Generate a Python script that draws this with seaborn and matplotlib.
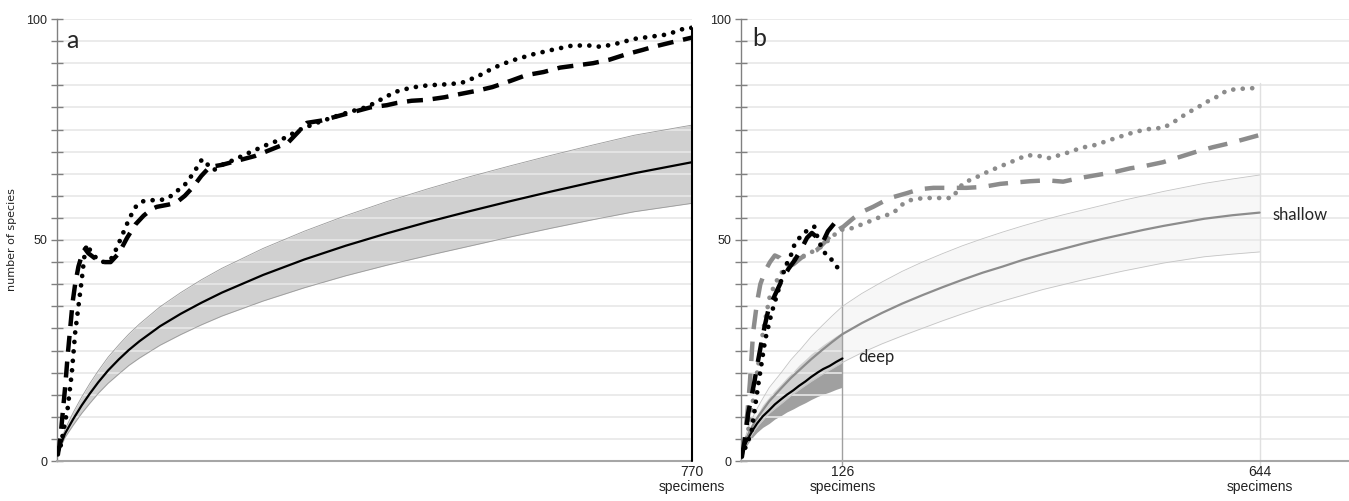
import numpy as np
import pandas as pd
import matplotlib.pyplot as plt
import seaborn as sns

# ---- panel a: all samples ----
a_obs1_x = [1, 4, 8, 13, 18, 22, 26, 30, 33, 36, 44, 55, 65, 72, 80, 88, 97, 105, 113, 125, 135, 145, 155, 165,
            176, 183, 190, 200, 213, 230, 254, 275, 295, 315, 335, 355, 376, 395, 410, 430, 450, 470, 490, 510,
            530, 550, 577, 600, 625, 645, 660, 680, 700, 720, 740, 763, 770]
a_obs1_y = [1.5, 3, 7, 12, 20, 29, 35, 41, 46, 49, 46.5, 45, 45.5, 48, 51.5, 55, 58, 58.8, 59, 59, 59.5, 61, 62.5,
            65, 68.3, 67, 65.8, 67, 68, 69.5, 71.5, 73, 75, 76.5, 77.8, 79, 80.1, 82, 83.5, 84.5, 85, 85.2, 85.5,
            87, 89, 90.5, 92, 93, 94, 94, 93.7, 94.5, 95.5, 96, 96.5, 98, 98]
a_obs2_x = [1, 3, 5, 7, 10, 13, 16, 19, 22, 26, 30, 34, 38, 45, 55, 65, 75, 85, 95, 105, 115, 121, 135, 145, 155,
            165, 175, 185, 200, 220, 240, 260, 280, 303, 320, 340, 360, 380, 400, 412, 430, 448, 470, 488, 510,
            528, 550, 569, 590, 610, 630, 650, 670, 690, 710, 723, 745, 770]
a_obs2_y = [1.5, 3.5, 7, 11, 17, 24, 30, 36, 40, 44, 46.5, 48, 47, 46, 45, 45, 47, 50.5, 53.5, 55.5, 57, 57.5, 58,
            58.5, 60, 62, 64.5, 66.5, 67, 68, 69, 70.5, 72, 76.5, 77, 78, 79, 80, 80.5, 81, 81.5, 81.7, 82.3, 83,
            83.8, 84.6, 86, 87.3, 88, 89, 89.5, 90, 90.8, 92, 93, 93.7, 94.7, 95.8]
a_rar_x = [1, 5, 10, 20, 30, 40, 50, 62, 75, 87, 100, 125, 150, 175, 200, 250, 300, 350, 400, 450, 500, 550, 600,
           650, 700, 770]
a_rar_mean = [1.5, 4, 6.3, 9.6, 12.6, 15.3, 17.8, 20.5, 23.0, 25.1, 27.1, 30.5, 33.3, 35.8, 38.1, 42.1, 45.6, 48.7,
              51.5, 54.1, 56.5, 58.8, 61.0, 63.1, 65.1, 67.6]
a_rar_hi = [1.8, 4.7, 7.3, 11.1, 14.5, 17.6, 20.4, 23.5, 26.3, 28.7, 31.0, 34.9, 38.1, 41.0, 43.6, 48.1, 52.0,
            55.5, 58.7, 61.6, 64.3, 66.8, 69.2, 71.5, 73.7, 76.0]
a_rar_lo = [1.2, 3.4, 5.4, 8.2, 10.8, 13.1, 15.3, 17.6, 19.7, 21.6, 23.3, 26.2, 28.6, 30.8, 32.8, 36.2, 39.2, 41.9,
            44.3, 46.5, 48.6, 50.7, 52.7, 54.6, 56.4, 58.3]

# ---- panel b: deep vs shallow ----
deep_obs1_x = [1, 7.5, 13, 21, 30, 38, 47, 55, 61, 67, 75, 83, 91, 96, 100, 107, 113, 122]
deep_obs1_y = [1, 4, 6.5, 16.7, 27.4, 33.5, 39, 44, 46, 49.3, 51, 52.3, 53, 50, 48.4, 46.2, 45.5, 43.2]
deep_obs2_x = [1, 5, 9, 13, 17, 21, 26, 30, 34, 42, 51, 59, 67, 75, 82, 88, 95, 101, 108, 117, 122, 126]
deep_obs2_y = [1, 5, 10.9, 14.5, 18.3, 22.5, 27.4, 31, 34.2, 37.5, 41, 43.5, 45.5, 48, 50.5, 51.6, 50.5, 49.3, 52,
               54, 54.3, 54.5]
deep_rar_x = [1, 5, 10, 15, 20, 27, 35, 42, 50, 57, 65, 72, 80, 87, 95, 102, 110, 118, 126]
deep_rar_mean = [1.5, 3.6, 5.5, 7.1, 8.5, 10.1, 11.5, 12.8, 14, 15, 16, 17, 18, 19, 20, 20.8, 21.5, 22.4, 23.2]
deep_rar_hi = [1.8, 4.4, 6.8, 8.8, 10.5, 12.7, 14.5, 16, 17.5, 18.9, 20.3, 21.7, 23, 24.2, 25.3, 26.3, 27.3, 28.3,
               29.2]
deep_rar_lo = [1.2, 2.9, 4.3, 5.5, 6.5, 7.6, 8.5, 9.5, 10.3, 11.1, 11.8, 12.5, 13.2, 13.9, 14.6, 15.1, 15.6, 16.2,
               16.7]

shal_obs1_x = [1, 6, 12, 20, 28, 36, 45, 58, 70, 80, 88, 100, 113, 123, 135, 154, 170, 189, 200, 210, 226, 245,
               262, 276, 290, 306, 320, 340, 355, 370, 384, 400, 409, 421, 440, 456, 471, 490, 512, 524, 540, 554,
               567, 579, 592, 604, 620, 641]
shal_obs1_y = [1, 4, 10, 20, 30, 37.5, 41, 44.8, 46, 46.5, 47.3, 48.5, 50.7, 52.3, 52.5, 53.8, 55, 56.1, 58, 59,
               59.5, 59.5, 59.5, 62.9, 64, 65.4, 66.5, 68, 69.2, 69, 68.5, 69.5, 69.9, 70.8, 71.5, 72.5, 73.4, 74.5,
               75.3, 75.3, 77, 78.7, 80, 81.3, 82.5, 83.9, 84.2, 84.4]
shal_obs2_x = [1, 5, 8, 11, 15, 20, 24, 30, 36, 42, 48, 57, 65, 75, 85, 94, 104, 114, 127, 140, 152, 164, 185,
               206, 222, 239, 260, 280, 300, 322, 340, 359, 380, 400, 420, 442, 462, 483, 503, 524, 545, 566, 586,
               607, 625, 645]
shal_obs2_y = [1, 6, 11, 17.6, 29, 36, 40, 43, 45, 46.5, 46, 44, 44.5, 46, 47, 47.7, 49.5, 51.6, 53, 55, 56.5,
               57.5, 59.5, 60.6, 61.5, 61.8, 61.8, 61.8, 62, 62.7, 63, 63.3, 63.5, 63.2, 64, 64.7, 65.3, 66.2, 66.8,
               67.6, 68.8, 70, 71, 71.9, 72.8, 73.8]
shal_rar_x = [1, 5, 10, 18, 25, 35, 50, 62, 75, 87, 100, 113, 126, 150, 175, 200, 225, 250, 275, 300, 325, 350,
              375, 400, 425, 450, 475, 500, 525, 550, 575, 610, 644]
shal_rar_mean = [1.5, 4.2, 6.5, 9.2, 11, 13.5, 16.5, 18.8, 21, 23, 25, 26.9, 28.7, 31.2, 33.5, 35.6, 37.5, 39.3,
                 41, 42.6, 44, 45.5, 46.8, 48, 49.2, 50.3, 51.3, 52.3, 53.2, 54, 54.8, 55.6, 56.2]
shal_rar_hi = [1.8, 5.2, 8, 11.2, 13.5, 16.6, 20, 22.9, 25.5, 28.1, 30.5, 32.8, 35, 37.9, 40.5, 42.9, 45, 46.9,
               48.7, 50.3, 51.8, 53.2, 54.5, 55.7, 56.8, 57.9, 59, 60, 61, 61.9, 62.8, 63.8, 64.7]
shal_rar_lo = [1.2, 3.3, 5, 7.3, 8.8, 10.8, 13, 14.8, 16.5, 18, 19.5, 20.9, 22.3, 24.5, 26.5, 28.3, 30, 31.7,
               33.3, 34.8, 36.2, 37.5, 38.8, 39.9, 41, 42, 43, 43.9, 44.8, 45.5, 46.2, 46.8, 47.3]

sns.set_theme(style="white")
plt.rcParams['font.family'] = ['Liberation Sans', 'DejaVu Sans']

DOT = dict(ls=(0, (0.01, 2.0)), dash_capstyle='round', lw=3.4)
DASH_A = dict(ls=(0, (3.6, 2.2)), dash_capstyle='butt', lw=3.2)
DASH_B = dict(ls=(0, (4.4, 2.8)), dash_capstyle='butt', lw=3.2)


def line(ax, x, y, color, **kw):
    sns.lineplot(x=x, y=y, ax=ax, color=color, errorbar=None, zorder=3, **kw)


def style_axes(ax, xmax):
    ax.set_xlim(0, xmax)
    ax.set_ylim(0, 100)
    ax.set_axisbelow('line')
    ax.set_yticks(np.arange(0, 101, 5))
    ax.set_yticklabels(['0' if v == 0 else '50' if v == 50 else '100' if v == 100 else ''
                        for v in range(0, 101, 5)], fontsize=9, color='#222222')
    ax.yaxis.grid(True, color='#e8e8e8', lw=1.2)
    ax.tick_params(axis='y', direction='inout', length=8, width=1, color='#808080', left=True, pad=3)
    ax.tick_params(axis='x', length=0, pad=3, labelsize=10, labelcolor='#222222')
    for s in ['top', 'right']:
        ax.spines[s].set_visible(False)
    ax.spines['left'].set_color('#808080')
    ax.spines['left'].set_linewidth(1)
    ax.spines['bottom'].set_color('#a6a6a6')
    ax.spines['bottom'].set_linewidth(1.5)
    for t in ax.get_xticklabels():
        t.set_linespacing(1.05)


fig = plt.figure(figsize=(13.49, 5.01), dpi=100)
ax1 = fig.add_axes([57 / 1349, 40 / 501, 635 / 1349, 442 / 501])
ax2 = fig.add_axes([741 / 1349, 40 / 501, 608 / 1349, 442 / 501])

# panel a
ax1.fill_between(a_rar_x, a_rar_lo, a_rar_hi, color='#d0d0d0', lw=0, zorder=1)
line(ax1, a_rar_x, a_rar_hi, '#9a9a9a', lw=0.6)
line(ax1, a_rar_x, a_rar_lo, '#9a9a9a', lw=0.6)
line(ax1, a_rar_x, a_rar_mean, 'black', lw=1.6)
line(ax1, a_obs2_x, a_obs2_y, 'black', **DASH_A)
line(ax1, a_obs1_x, a_obs1_y, 'black', **DOT)
ax1.plot([770, 770], [0, 98], color='black', lw=1.5, zorder=4, clip_on=False)
style_axes(ax1, 770)
ax1.set_xticks([770])
ax1.set_xticklabels(['770\nspecimens'])
ax1.set_ylabel('number of species', fontsize=8, labelpad=7, color='#222222', family='DejaVu Sans')
ax1.text(0.015, 0.952, 'a', transform=ax1.transAxes, fontsize=18, family='Lato', va='center', ha='left')

# panel b
ax2.fill_between(deep_rar_x, deep_rar_lo, deep_rar_hi, color='#a0a0a0', lw=0, zorder=1)
ax2.fill_between(shal_rar_x, shal_rar_lo, shal_rar_hi, color='#f2f2f2', alpha=0.6, lw=0, zorder=1.1)
line(ax2, shal_rar_x, shal_rar_hi, '#c4c4c4', lw=0.6)
line(ax2, shal_rar_x, shal_rar_lo, '#c4c4c4', lw=0.6)
line(ax2, shal_rar_x, shal_rar_mean, '#8c8c8c', lw=1.6)
line(ax2, deep_rar_x, deep_rar_mean, 'black', lw=1.6)
ax2.plot([126, 126], [-1, 52], color='#a0a0a0', lw=1, zorder=2, clip_on=False)
ax2.plot([644, 644], [-1, 85.5], color='#e0e0e0', lw=1, zorder=2, clip_on=False)
line(ax2, shal_obs2_x, shal_obs2_y, '#8c8c8c', **DASH_B)
line(ax2, shal_obs1_x, shal_obs1_y, '#8c8c8c', **DOT)
line(ax2, deep_obs2_x, deep_obs2_y, 'black', **DASH_B)
line(ax2, deep_obs1_x, deep_obs1_y, 'black', **DOT)
style_axes(ax2, 755)
ax2.set_xticks([126, 644])
ax2.set_xticklabels(['126\nspecimens', '644\nspecimens'])
ax2.text(145, 23.5, 'deep', fontsize=12, family='Lato', va='center', ha='left')
ax2.text(660, 55.7, 'shallow', fontsize=12, family='Lato', va='center', ha='left')
ax2.text(0.018, 0.955, 'b', transform=ax2.transAxes, fontsize=18, family='Lato', va='center', ha='left')

fig.savefig('out.png', dpi=100)
